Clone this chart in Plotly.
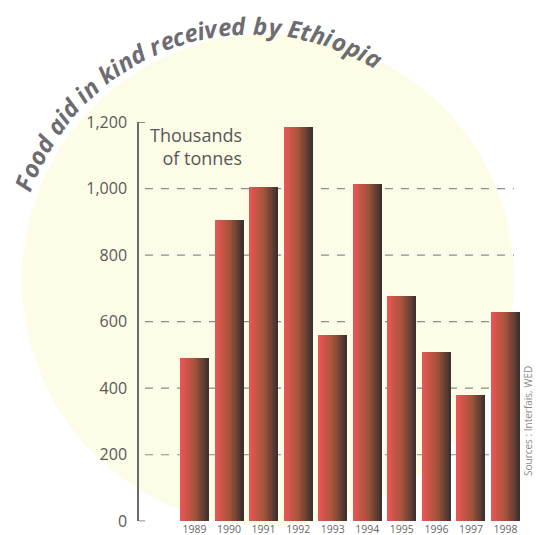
import math
import plotly.graph_objects as go

# ---------------- data ----------------
years = ["1989", "1990", "1991", "1992", "1993", "1994", "1995", "1996", "1997", "1998"]
food_aid = [491, 904, 1004, 1184, 560, 1013, 678, 510, 380, 630]
y_tick_values = [0, 200, 400, 600, 800, 1000, 1200]
grid_values = [200, 400, 600, 800, 1000]
title_text = "Food aid in kind received by Ethiopia"
unit_text = "Thousands<br>of tonnes"
source_text = "Sources : Interfais, WED"

# ---------------- geometry helpers (pixel -> paper) ----------------
W, H = 539, 535


def px(x):
    return x / W


def py(y):
    return 1 - y / H


X_LEFT, X_RIGHT = 139, 522
Y_ZERO, Y_TOP = 521.3, 122

fig = go.Figure()

# gradient bars: each bar built from thin vertical slices
stops = [(0.0, (236, 86, 84)), (0.5, (165, 85, 60)), (1.0, (55, 48, 46))]


def grad(t):
    for (t0, c0), (t1, c1) in zip(stops[:-1], stops[1:]):
        if t0 <= t <= t1:
            f = (t - t0) / (t1 - t0)
            return "rgb(%d,%d,%d)" % tuple(round(a + (b - a) * f) for a, b in zip(c0, c1))
    return "rgb(%d,%d,%d)" % stops[-1][1]


N = 18
bw = 0.84
for i in range(N):
    t = (i + 0.5) / N
    w = bw / N
    fig.add_trace(go.Bar(
        x=years, y=food_aid,
        width=w * 1.25 if i < N - 1 else w,
        offset=-bw / 2 + i * w,
        marker=dict(color=grad(t), line=dict(width=0)),
        hoverinfo="skip", showlegend=False,
    ))

shapes = []
# pale yellow disc behind everything
cx, cy, r = 268, 280, 246
shapes.append(dict(type="circle", xref="paper", yref="paper",
                   x0=px(cx - r), x1=px(cx + r), y0=py(cy + r), y1=py(cy - r),
                   fillcolor="#fdfce6", line=dict(width=0), layer="below"))
# dashed gridlines
for g in grid_values:
    shapes.append(dict(type="line", xref="paper", yref="y",
                       x0=px(145), x1=px(514), y0=g, y1=g,
                       line=dict(color="#8c8c8c", width=1.2, dash="8px,8px"),
                       layer="below"))
# bracket ends of the axis
for v in (y_tick_values[0], y_tick_values[-1]):
    shapes.append(dict(type="line", xref="paper", yref="y",
                       x0=px(X_LEFT), x1=px(X_LEFT + 6), y0=v, y1=v,
                       line=dict(color="#6a6a6a", width=1.5)))

annotations = []
annotations.append(dict(text=unit_text, xref="paper", yref="paper",
                        x=px(244), y=py(121), xanchor="right", yanchor="top",
                        align="right", showarrow=False,
                        font=dict(family="Open Sans", size=18, color="#58585a")))
annotations.append(dict(text=source_text, xref="paper", yref="paper",
                        x=px(528), y=py(421), xanchor="center", yanchor="middle",
                        textangle=-90, showarrow=False,
                        font=dict(family="Open Sans", size=10, color="#8a8a8a")))

# curved title: one annotation per glyph along an arc
widths = {"F": .55, "o": .6, "d": .62, " ": .26, "a": .6, "i": .29, "n": .63, "k": .56,
          "r": .43, "e": .55, "c": .48, "v": .55, "b": .62, "y": .55, "E": .55,
          "t": .4, "h": .63, "p": .62}
tcx, tcy, tr = 252, 268, 243
a_start, a_end = 159.5, 60.0
ws = [widths.get(ch, .55) for ch in title_text]
centers = []
acc = 0
for w in ws:
    centers.append(acc + w / 2)
    acc += w
span = centers[-1] - centers[0]
for ch, c in zip(title_text, centers):
    if ch == " ":
        continue
    th = a_start + (c - centers[0]) / span * (a_end - a_start)
    rad = math.radians(th)
    gx = tcx + tr * math.cos(rad)
    gy = tcy - tr * math.sin(rad)
    annotations.append(dict(text=ch, xref="paper", yref="paper", x=px(gx), y=py(gy),
                            xanchor="center", yanchor="middle", showarrow=False,
                            textangle=90 - th,
                            font=dict(family="Open Sans", size=24, color="#6c6c71",
                                      weight="bold", style="italic")))

fig.update_layout(
    width=W, height=H,
    margin=dict(l=0, r=0, t=0, b=0, autoexpand=False),
    paper_bgcolor="white", plot_bgcolor="rgba(0,0,0,0)",
    barmode="overlay", bargap=0,
    shapes=shapes, annotations=annotations,
    xaxis=dict(type="category", domain=[px(X_LEFT), px(X_RIGHT)],
               range=[-1.606, 9.477], showgrid=False, zeroline=False,
               showline=False, ticks="", fixedrange=True, automargin=False,
               tickfont=dict(family="Open Sans", size=10.5, color="#666666")),
    yaxis=dict(domain=[py(Y_ZERO), py(Y_TOP)], range=[0, 1200],
               tickvals=y_tick_values, ticktext=[f"{v:,}" for v in y_tick_values],
               showgrid=False, zeroline=False, showline=True, automargin=False,
               linecolor="#6a6a6a", linewidth=1.5, ticks="",
               ticklabelstandoff=7, fixedrange=True,
               tickfont=dict(family="Open Sans", size=16, color="#5a5a5a")),
)

fig.write_html("out.html", config={"displayModeBar": False},
               post_script="document.body.style.margin='0';")
